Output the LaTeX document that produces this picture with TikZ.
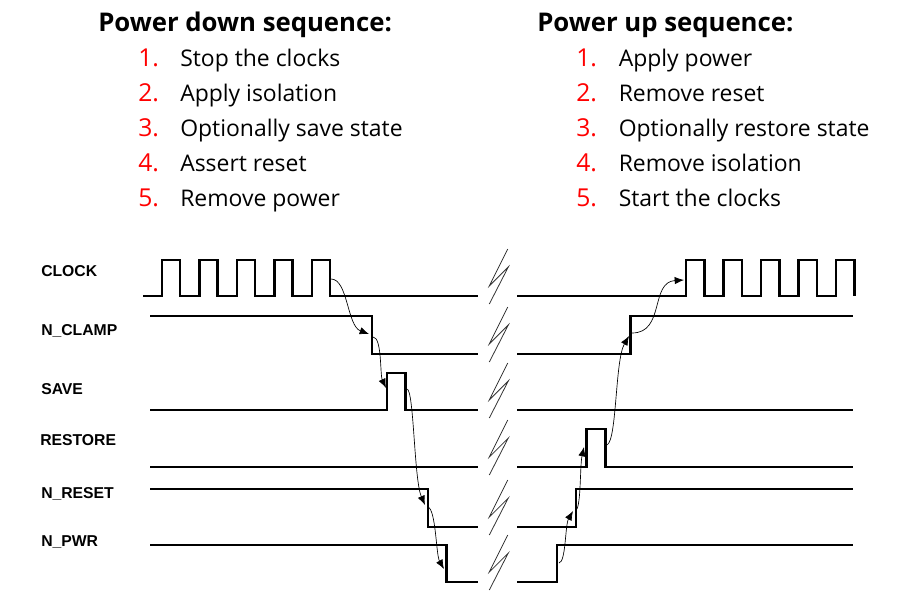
\documentclass[tikz,border=0pt]{standalone}
\usepackage{fontspec}
\setmainfont{Open Sans}
\newfontfamily\lblfont{Liberation Sans}
\usetikzlibrary{arrows.meta}
\definecolor{stepred}{RGB}{255,0,0}

\begin{document}
\begin{tikzpicture}[x=0.75pt, y=-0.75pt,
	sig/.style={line width=2pt, line join=miter},
	seq/.style={line width=0.5pt, >={Latex[length=7pt, width=5.5pt]}, ->},
	brk/.style={line width=0.6pt, color=black!80},
	lbl/.style={anchor=base west, inner sep=0pt, font=\lblfont\bfseries\fontsize{11.8}{14}\selectfont},
	head/.style={anchor=base west, inner sep=0pt, font=\bfseries\fontsize{19.3}{23}\selectfont},
	item/.style={anchor=base west, inner sep=0pt, font=\fontsize{17.2}{20}\selectfont}]
	\useasboundingbox (0,0) rectangle (903,590);
	\node[head] (downtitle) at (98,31.7) {Power down sequence:};
	\node[head] (uptitle) at (537,31.7) {Power up sequence:};
	\foreach \t [count=\i] in {Stop the clocks, Apply isolation, Optionally save state, Assert reset, Remove power} {
		\node[item, text=stepred, font=\fontsize{18.5}{20}\selectfont] (dnum\i) at (138,{31.7+35*\i}) {\i.};
		\node[item] (dstep\i) at (180,{31.7+35*\i}) {\t};
	}
	\foreach \t [count=\i] in {Apply power, Remove reset, Optionally restore state, Remove isolation, Start the clocks} {
		\node[item, text=stepred, font=\fontsize{18.5}{20}\selectfont] (unum\i) at (576,{31.7+35*\i}) {\i.};
		\node[item] (ustep\i) at (618.5,{31.7+35*\i}) {\t};
	}
	\node[lbl] (clk) at (41,276.3) {CLOCK};
	\node[lbl] (clamp) at (41,335.3) {N\_CLAMP};
	\node[lbl] (save) at (41,394.6) {SAVE};
	\node[lbl] (restore) at (40,445.6) {RESTORE};
	\node[lbl] (reset) at (41,498) {N\_RESET};
	\node[lbl] (pwr) at (41,546.3) {N\_PWR};
	\draw[sig] (143,296) foreach \i in {0,...,4} {
		-- ({162+37.5*\i},296) -- ({162+37.5*\i},260) -- ({180+37.5*\i},260) -- ({180+37.5*\i},296)} -- (478,296);
	\draw[sig] (150,316) -- (372,316) -- (372,354) -- (478,354);
	\draw[sig] (150,410) -- (387,410) -- (387,373) -- (405.5,373) -- (405.5,410) -- (478,410);
	\draw[sig] (150,467) -- (478,467);
	\draw[sig] (150,489) -- (428,489) -- (428,527) -- (478,527);
	\draw[sig] (150,545) -- (446.5,545) -- (446.5,582) -- (478,582);
	\draw[sig] (517,296) foreach \i in {0,...,4} {
		-- ({686+37.5*\i},296) -- ({686+37.5*\i},260) -- ({704.5+37.5*\i},260) -- ({704.5+37.5*\i},296)};
	\draw[sig] (517,354) -- (630.5,354) -- (630.5,316) -- (853,316);
	\draw[sig] (517,410) -- (853,410);
	\draw[sig] (517,467) -- (586.5,467) -- (586.5,429) -- (605.5,429) -- (605.5,467) -- (853,467);
	\draw[sig] (517,527) -- (576,527) -- (576,489) -- (853,489);
	\draw[sig] (517,582) -- (557,582) -- (557,545) -- (853,545);
	\foreach \y in {296,354,410,467,527,582}
		\draw[brk] (507.7,\y-47) -- (489.3,\y-10) -- (508.3,\y-29) -- (489.3,\y+8);
	\coordinate (a1) at (331,279);
	\coordinate (b1) at (369,334);
	\coordinate (a2) at (373,337);
	\coordinate (b2) at (386,388);
	\coordinate (a3) at (407,389);
	\coordinate (b3) at (425,505);
	\coordinate (a4) at (428,507);
	\coordinate (b4) at (444,569);
	\coordinate (c1) at (559,563);
	\coordinate (d1) at (573,511);
	\coordinate (c2) at (577,509);
	\coordinate (d2) at (584,447);
	\coordinate (c3) at (607,445);
	\coordinate (d3) at (629,336);
	\coordinate (c4) at (632,333);
	\coordinate (d4) at (684,280);
	\draw[seq] (a1) .. controls (348,279) and (347,326) .. (b1);
	\draw[seq] (a2) .. controls (382,337) and (380,375) .. (b2);
	\draw[seq] (a3) .. controls (414,390) and (414,480) .. (b3);
	\draw[seq] (a4) .. controls (436,510) and (436,555) .. (b4);
	\draw[seq] (c1) .. controls (566,562) and (565,525) .. (d1);
	\draw[seq] (c2) .. controls (581,500) and (580,465) .. (d2);
	\draw[seq] (c3) .. controls (617,440) and (615,360) .. (d3);
	\draw[seq] (c4) .. controls (665,333) and (650,282) .. (d4);
\end{tikzpicture}
\end{document}
